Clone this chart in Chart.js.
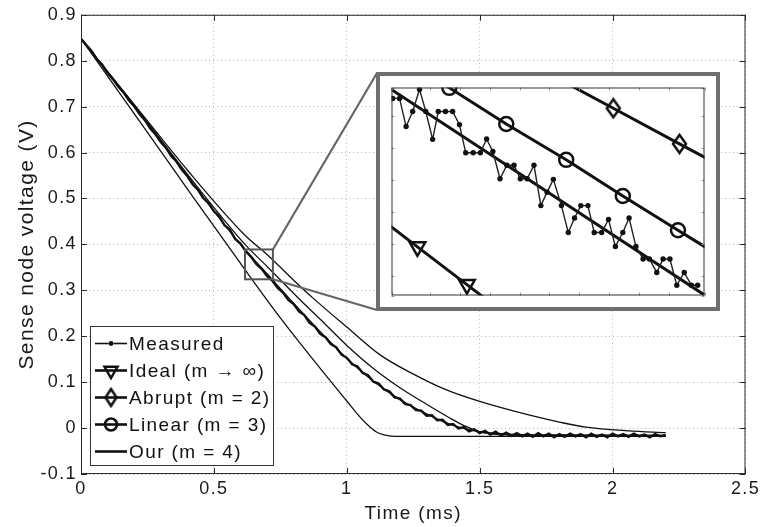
<!DOCTYPE html>
<html><head><meta charset="utf-8">
<script src="https://cdn.jsdelivr.net/npm/chart.js@4.4.1/dist/chart.umd.min.js"></script>
<style>
html,body{margin:0;padding:0;background:#fff;}
#wrap{position:relative;width:762px;height:527px;overflow:hidden;}
#main{position:absolute;left:0;top:0;}
#insetBox{position:absolute;left:376px;top:72px;width:344px;height:239px;box-sizing:border-box;border:4px solid #6f6f6f;background:#fff;}
#inset{display:block;}
</style></head><body>
<div id="wrap"><canvas id="main" width="762" height="527"></canvas>
<div id="insetBox"><canvas id="inset" width="336" height="231"></canvas></div></div>
<script>
// ---------- tick labels ----------
const X_TICKS = [0, 0.5, 1, 1.5, 2, 2.5];
const Y_TICKS = [-0.1, 0, 0.1, 0.2, 0.3, 0.4, 0.5, 0.6, 0.7, 0.8, 0.9];
const X_TITLE = 'Time (ms)';
const Y_TITLE = 'Sense node voltage (V)';
const SERIES_NAMES = ['Measured', 'Ideal (m \u2192 \u221e)', 'Abrupt (m = 2)', 'Linear (m = 3)', 'Our (m = 4)'];

// ---------- main plot series (time in ms, voltage in V) ----------
const T_MEAS = [0.00,0.02,0.04,0.06,0.08,0.10,0.12,0.14,0.16,0.18,0.20,0.22,0.24,0.26,0.28,0.30,0.32,0.34,0.36,0.38,
  0.40,0.42,0.44,0.46,0.48,0.50,0.52,0.54,0.56,0.58,0.60,0.62,0.64,0.66,0.68,0.70,0.72,0.74,0.76,0.78,
  0.80,0.82,0.84,0.86,0.88,0.90,0.92,0.94,0.96,0.98,1.00,1.02,1.04,1.06,1.08,1.10,1.12,1.14,1.16,1.18,
  1.20,1.22,1.24,1.26,1.28,1.30,1.32,1.34,1.36,1.38,1.40,1.42,1.44,1.46,1.48,1.50,1.52,1.54,1.56,1.58,
  1.60,1.62,1.64,1.66,1.68,1.70,1.72,1.74,1.76,1.78,1.80,1.82,1.84,1.86,1.88,1.90,1.92,1.94,1.96,1.98,
  2.00,2.02,2.04,2.06,2.08,2.10,2.12,2.14,2.16,2.18,2.20];
const V_MEAS = [0.848,0.834,0.821,0.803,0.791,0.773,0.760,0.744,0.731,0.714,0.701,0.684,0.671,0.653,0.640,0.623,0.610,0.592,0.580,0.562,
  0.549,0.531,0.519,0.501,0.490,0.472,0.461,0.442,0.432,0.412,0.402,0.385,0.373,0.357,0.347,0.331,0.321,0.305,0.295,0.279,
  0.270,0.254,0.246,0.229,0.221,0.205,0.198,0.183,0.176,0.160,0.153,0.139,0.134,0.120,0.115,0.101,0.097,0.084,0.080,0.067,
  0.064,0.052,0.050,0.039,0.038,0.027,0.028,0.017,0.018,0.007,0.009,-0.001,0.002,-0.007,-0.003,-0.011,-0.006,-0.014,-0.008,-0.016,
  -0.010,-0.017,-0.011,-0.018,-0.012,-0.019,-0.011,-0.018,-0.012,-0.020,-0.013,-0.019,-0.012,-0.018,-0.013,-0.020,-0.012,-0.019,-0.014,-0.020,
  -0.012,-0.018,-0.013,-0.019,-0.012,-0.018,-0.014,-0.020,-0.013,-0.018,-0.015];

const T_IDEAL = [0, 0.2, 0.4, 0.617, 0.75, 0.9, 1.0, 1.05, 1.08, 1.11, 1.14, 1.18, 2.2];
const V_IDEAL = [0.848, 0.685, 0.521, 0.345, 0.240, 0.130, 0.059, 0.024, 0.006, -0.008, -0.015, -0.018, -0.018];

const T_ABRUPT = [0, 0.2, 0.4, 0.617, 0.7, 0.8, 0.873, 1.0, 1.124, 1.249, 1.375, 1.5, 1.688, 1.8, 1.9, 2.06, 2.2];
const V_ABRUPT = [0.848, 0.705, 0.562, 0.420, 0.378, 0.322, 0.283, 0.220, 0.160, 0.118, 0.083, 0.058, 0.028, 0.013, 0.002, -0.006, -0.010];

const T_LINEAR = [0, 0.2, 0.4, 0.617, 0.7, 0.823, 0.9, 1.0, 1.1, 1.2, 1.3, 1.4, 1.45, 1.5, 1.55, 1.7, 2.2];
const V_LINEAR = [0.848, 0.703, 0.553, 0.400, 0.352, 0.280, 0.237, 0.180, 0.130, 0.088, 0.052, 0.018, 0.003, -0.008, -0.013, -0.016, -0.016];

const T_OUR = [0, 0.2, 0.4, 0.6, 0.7, 0.8, 0.9, 1.0, 1.1, 1.2, 1.3, 1.4, 1.5, 1.6, 1.8, 2.2];
const V_OUR = [0.848, 0.700, 0.548, 0.400, 0.336, 0.272, 0.210, 0.152, 0.102, 0.062, 0.031, 0.006, -0.008, -0.013, -0.015, -0.016];

// ---------- zoom window shown in the inset ----------
const ZOOM_T = [0.617, 0.722];
const ZOOM_V = [0.324, 0.389];
const INSET_TICK_STEP = 0.01;

// ---------- inset series (read from the magnified view) ----------
const T_IN_MEAS = [0.6174,0.6197,0.6219,0.6241,0.6264,0.6285,0.6308,0.6327,0.6351,0.6375,0.6398,0.6419,0.6444,0.6468,0.6489,0.6510,
  0.6534,0.6557,0.6581,0.6602,0.6625,0.6648,0.6671,0.6692,0.6713,0.6740,0.6763,0.6784,0.6805,0.6829,0.6850,0.6875,
  0.6898,0.6921,0.6946,0.6967,0.6990,0.7014,0.7035,0.7060,0.7081,0.7104,0.7127,0.7152,0.7176,0.7197];
const V_IN_MEAS = [0.3856,0.3856,0.3768,0.3815,0.3884,0.3815,0.3728,0.3815,0.3815,0.3815,0.3774,0.3686,0.3686,0.3686,0.3729,0.3690,
  0.3605,0.3647,0.3647,0.3605,0.3605,0.3647,0.3521,0.3563,0.3603,0.3521,0.3437,0.3482,0.3521,0.3521,0.3437,0.3437,
  0.3478,0.3393,0.3437,0.3482,0.3393,0.3354,0.3354,0.3312,0.3354,0.3354,0.3272,0.3312,0.3272,0.3272];
const T_IN_IDEAL = [0.6091, 0.6257, 0.6423, 0.6589];
const V_IN_IDEAL = [0.3510, 0.3392, 0.3274, 0.3156];
const T_IN_ABRUPT = [0.6692, 0.6914, 0.7136, 0.7358];
const V_IN_ABRUPT = [0.3936, 0.3825, 0.3714, 0.3603];
const T_IN_LINEAR = [0.6164, 0.6364, 0.6555, 0.6756, 0.6946, 0.7131, 0.7321];
const V_IN_LINEAR = [0.4000, 0.3889, 0.3776, 0.3664, 0.3551, 0.3444, 0.3335];
const T_IN_OUR = [0.605, 0.735];
const V_IN_OUR = [0.3957, 0.3162];

// ---------- helpers ----------
const FONT = "'Liberation Sans', Arial, Helvetica, sans-serif";
const pts = (t, v) => t.map((x, i) => ({x: x, y: v[i]}));
const fmt = v => String(Math.round(v * 10) / 10);

function makeDiamond(w, h, lw) {
  const c = document.createElement('canvas');
  c.width = w + 4; c.height = h + 4;
  const g = c.getContext('2d');
  g.strokeStyle = '#111'; g.lineWidth = lw; g.lineJoin = 'miter';
  g.beginPath();
  g.moveTo(c.width / 2, 2); g.lineTo(c.width - 2, c.height / 2);
  g.lineTo(c.width / 2, c.height - 2); g.lineTo(2, c.height / 2); g.closePath();
  g.stroke();
  return c;
}
const DIAMOND_BIG = makeDiamond(13, 18, 2.5);
const DIAMOND_LEG = makeDiamond(11, 17, 2.5);

function drawMarker(ctx, kind, x, y, big) {
  const H = Chart.helpers;
  if (kind === 'dot') {
    H.drawPoint(ctx, {pointStyle: 'circle', radius: big ? 2.6 : 2.4, borderWidth: 0, rotation: 0}, x, y);
    ctx.fillStyle = '#111'; ctx.fill();
  } else if (kind === 'tri') {
    ctx.lineWidth = 2.5; ctx.strokeStyle = '#111'; ctx.fillStyle = 'rgba(0,0,0,0)';
    H.drawPoint(ctx, {pointStyle: 'triangle', radius: big ? 9 : 7.5, borderWidth: 2.5, rotation: 180}, x, y);
  } else if (kind === 'circ') {
    ctx.lineWidth = 2.5; ctx.strokeStyle = '#111'; ctx.fillStyle = 'rgba(0,0,0,0)';
    H.drawPoint(ctx, {pointStyle: 'circle', radius: big ? 7 : 6, borderWidth: 2.5, rotation: 0}, x, y);
  } else if (kind === 'dia') {
    const im = big ? DIAMOND_BIG : DIAMOND_LEG;
    ctx.drawImage(im, x - im.width / 2, y - im.height / 2);
  }
}

const spacingPlugin = {
  id: 'spacing',
  beforeDraw(chart) { chart.ctx.letterSpacing = '1.4px'; }
};

const decorPlugin = {
  id: 'decor',
  afterDraw(chart) {
    const ctx = chart.ctx, a = chart.chartArea;
    const xs = chart.scales.x, ys = chart.scales.y;
    ctx.save();
    // frame
    ctx.strokeStyle = '#2a2a2a'; ctx.lineWidth = 1; ctx.setLineDash([]);
    ctx.strokeRect(a.left + 0.5, a.top + 0.5, a.right - a.left - 1, a.bottom - a.top - 1);
    // inward ticks on all four sides
    ctx.beginPath();
    xs.ticks.forEach(t => {
      const px = Math.round(xs.getPixelForValue(t.value)) + 0.5;
      ctx.moveTo(px, a.bottom); ctx.lineTo(px, a.bottom - 6);
      ctx.moveTo(px, a.top); ctx.lineTo(px, a.top + 6);
    });
    ys.ticks.forEach(t => {
      const py = Math.round(ys.getPixelForValue(t.value)) + 0.5;
      ctx.moveTo(a.left, py); ctx.lineTo(a.left + 6, py);
      ctx.moveTo(a.right, py); ctx.lineTo(a.right - 6, py);
    });
    ctx.stroke();
    // zoom rectangle
    const rx0 = xs.getPixelForValue(ZOOM_T[0]), rx1 = xs.getPixelForValue(ZOOM_T[1]);
    const ry0 = ys.getPixelForValue(ZOOM_V[1]), ry1 = ys.getPixelForValue(ZOOM_V[0]);
    ctx.strokeStyle = '#555'; ctx.lineWidth = 2;
    ctx.strokeRect(rx0, ry0, rx1 - rx0, ry1 - ry0);
    // connectors to the inset box
    const box = document.getElementById('insetBox');
    const cr = chart.canvas.getBoundingClientRect(), br = box.getBoundingClientRect();
    const bx = br.left - cr.left + 1, by0 = br.top - cr.top + 1, by1 = br.bottom - cr.top - 1;
    ctx.strokeStyle = '#666'; ctx.lineWidth = 2.2;
    ctx.beginPath();
    ctx.moveTo(rx1, ry0); ctx.lineTo(bx, by0);
    ctx.moveTo(rx1, ry1); ctx.lineTo(bx, by1);
    ctx.stroke();
    // legend
    const lx = a.left + 9, lw = 183, lh = 139, ly = a.bottom - 9 - lh;
    ctx.fillStyle = '#fff'; ctx.fillRect(lx, ly, lw, lh);
    ctx.strokeStyle = '#333'; ctx.lineWidth = 1;
    ctx.strokeRect(lx + 0.5, ly + 0.5, lw, lh);
    const kinds = ['dot', 'tri', 'dia', 'circ', 'none'];
    ctx.font = '19px ' + FONT; ctx.textBaseline = 'middle'; ctx.textAlign = 'left';
    SERIES_NAMES.forEach((name, i) => {
      const yy = ly + 17.5 + 27 * i;
      ctx.strokeStyle = '#111'; ctx.lineWidth = i === 0 ? 1.6 : 2.6;
      ctx.beginPath(); ctx.moveTo(lx + 5, yy); ctx.lineTo(lx + 37, yy); ctx.stroke();
      drawMarker(ctx, kinds[i], lx + 21, yy, false);
      ctx.fillStyle = '#111';
      ctx.fillText(name, lx + 39, yy + 1);
    });
    ctx.restore();
  }
};

const thin = {borderColor: '#111', borderWidth: 1.3, pointRadius: 0, cubicInterpolationMode: 'monotone', fill: false};

new Chart(document.getElementById('main'), {
  type: 'line',
  data: {datasets: [
    {label: SERIES_NAMES[0], data: pts(T_MEAS, V_MEAS), borderColor: '#111', borderWidth: 2.4, pointRadius: 0, tension: 0, fill: false},
    Object.assign({label: SERIES_NAMES[1], data: pts(T_IDEAL, V_IDEAL)}, thin),
    Object.assign({label: SERIES_NAMES[2], data: pts(T_ABRUPT, V_ABRUPT)}, thin),
    Object.assign({label: SERIES_NAMES[3], data: pts(T_LINEAR, V_LINEAR)}, thin),
    Object.assign({label: SERIES_NAMES[4], data: pts(T_OUR, V_OUR)}, thin)
  ]},
  options: {
    responsive: false, animation: false, devicePixelRatio: 1,
    layout: {padding: {top: 14, right: 16, left: 0, bottom: 0}},
    plugins: {legend: {display: false}, tooltip: {enabled: false}},
    scales: {
      x: {
        type: 'linear', min: 0, max: 2.5,
        afterBuildTicks: s => { s.ticks = X_TICKS.map(v => ({value: v})); },
        afterFit: s => { s.height = 53; },
        ticks: {callback: v => fmt(v), color: '#1a1a1a', padding: 4, font: {family: FONT, size: 18}, maxRotation: 0, autoSkip: false},
        grid: {color: '#b8b8b8', lineWidth: 1, drawTicks: false},
        border: {display: false, dash: [1, 3]},
        title: {display: true, text: X_TITLE, color: '#1a1a1a', font: {family: FONT, size: 19}, padding: {top: 0, bottom: 2}}
      },
      y: {
        type: 'linear', min: -0.1, max: 0.9,
        afterBuildTicks: s => { s.ticks = Y_TICKS.map(v => ({value: v})); },
        afterFit: s => { s.width = 81; },
        ticks: {callback: v => fmt(v), color: '#1a1a1a', padding: 4, font: {family: FONT, size: 18}, autoSkip: false},
        grid: {color: '#b8b8b8', lineWidth: 1, drawTicks: false},
        border: {display: false, dash: [1, 3]},
        title: {display: true, text: Y_TITLE, color: '#1a1a1a', font: {family: FONT, size: 21}, padding: {top: 15, bottom: 0}}
      }
    }
  },
  plugins: [spacingPlugin, decorPlugin]
});

// ---------- inset ----------
const insetTicks = {
  id: 'insetTicks',
  afterDraw(chart) {
    const ctx = chart.ctx, a = chart.chartArea;
    const xs = chart.scales.x, ys = chart.scales.y;
    ctx.save();
    ctx.strokeStyle = '#9a9a9a'; ctx.lineWidth = 1;
    ctx.beginPath();
    xs.ticks.forEach(t => {
      const px = Math.round(xs.getPixelForValue(t.value)) + 0.5;
      ctx.moveTo(px, a.top); ctx.lineTo(px, a.top + 3);
      ctx.moveTo(px, a.bottom); ctx.lineTo(px, a.bottom - 3);
    });
    ys.ticks.forEach(t => {
      const py = Math.round(ys.getPixelForValue(t.value)) + 0.5;
      ctx.moveTo(a.left, py); ctx.lineTo(a.left + 3, py);
      ctx.moveTo(a.right, py); ctx.lineTo(a.right - 3, py);
    });
    ctx.stroke();
    ctx.strokeStyle = '#333';
    ctx.strokeRect(a.left + 0.5, a.top + 0.5, a.right - a.left - 1, a.bottom - a.top - 1);
    ctx.restore();
  }
};

const thick = {borderColor: '#111', borderWidth: 3, tension: 0, fill: false, clip: 0,
  pointBorderColor: '#111', pointBackgroundColor: 'rgba(255,255,255,0)', pointBorderWidth: 2.5};

new Chart(document.getElementById('inset'), {
  type: 'line',
  data: {datasets: [
    {label: SERIES_NAMES[0], data: pts(T_IN_MEAS, V_IN_MEAS), borderColor: '#222', borderWidth: 1.4, tension: 0, clip: 0,
      pointRadius: 2.7, pointBackgroundColor: '#111', pointBorderWidth: 0},
    Object.assign({label: SERIES_NAMES[1], data: pts(T_IN_IDEAL, V_IN_IDEAL), pointStyle: 'triangle', pointRotation: 180, pointRadius: 9}, thick),
    Object.assign({label: SERIES_NAMES[2], data: pts(T_IN_ABRUPT, V_IN_ABRUPT), pointStyle: DIAMOND_BIG, pointRadius: 8}, thick),
    Object.assign({label: SERIES_NAMES[3], data: pts(T_IN_LINEAR, V_IN_LINEAR), pointStyle: 'circle', pointRadius: 7}, thick),
    Object.assign({label: SERIES_NAMES[4], data: pts(T_IN_OUR, V_IN_OUR), pointRadius: 0}, thick)
  ]},
  options: {
    responsive: false, animation: false, devicePixelRatio: 1,
    layout: {padding: 0},
    plugins: {legend: {display: false}, tooltip: {enabled: false}},
    scales: {
      x: {type: 'linear', display: false, min: ZOOM_T[0], max: ZOOM_T[1], ticks: {stepSize: INSET_TICK_STEP}},
      y: {type: 'linear', display: false, min: ZOOM_V[0], max: ZOOM_V[1], ticks: {stepSize: INSET_TICK_STEP}}
    }
  },
  plugins: [insetTicks]
});
</script></body></html>
